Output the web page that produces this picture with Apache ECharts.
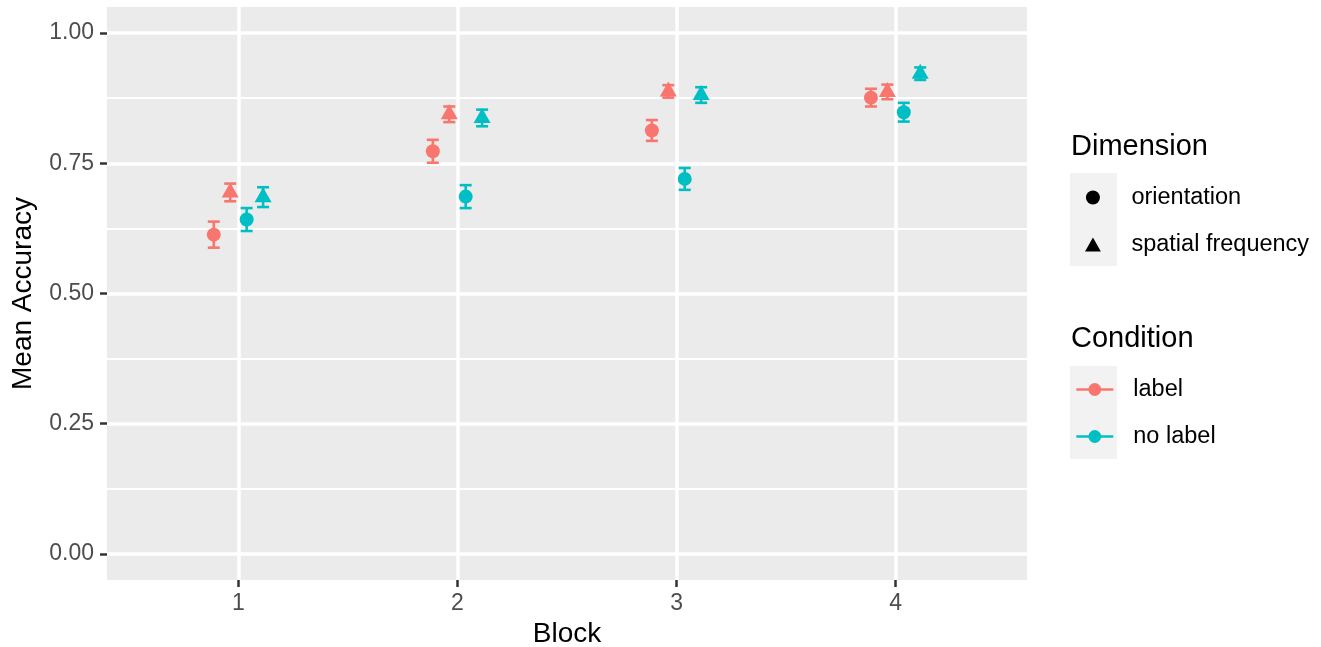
<!DOCTYPE html>
<html>
<head>
<meta charset="utf-8">
<script src="https://cdn.jsdelivr.net/npm/echarts@6/dist/echarts.min.js"></script>
<style>
  html, body { margin: 0; padding: 0; background: #fff; }
  #chart { width: 1321px; height: 647px; }
</style>
</head>
<body>
<div id="chart"></div>
<script>
// values (mean accuracy and half-width of the error bar)
var blocks = [1, 2, 3, 4]
var yBreaks = [0, 0.25, 0.5, 0.75, 1]
var yMinorBreaks = [0.125, 0.375, 0.625, 0.875]

var labelOrientation = [0.613, 0.773, 0.813, 0.876]
var labelOrientationErr = [0.025, 0.022, 0.020, 0.017]
var labelSpatial = [0.694, 0.844, 0.888, 0.887]
var labelSpatialErr = [0.017, 0.015, 0.012, 0.014]
var noLabelOrientation = [0.642, 0.686, 0.720, 0.848]
var noLabelOrientationErr = [0.022, 0.022, 0.021, 0.018]
var noLabelSpatial = [0.685, 0.837, 0.881, 0.922]
var noLabelSpatialErr = [0.019, 0.016, 0.015, 0.012]

var font = '"Liberation Sans", Arial, sans-serif'
var colors = { label: '#F8766D', 'no label': '#00BFC4' }
var trianglePath = 'path://M0,15L8.5,0L17,15Z'

// dodge order: label/orientation, label/spatial, no label/orientation, no label/spatial
var groups = [
    { condition: 'label', dimension: 'orientation', mean: labelOrientation, err: labelOrientationErr },
    { condition: 'label', dimension: 'spatial frequency', mean: labelSpatial, err: labelSpatialErr },
    { condition: 'no label', dimension: 'orientation', mean: noLabelOrientation, err: noLabelOrientationErr },
    { condition: 'no label', dimension: 'spatial frequency', mean: noLabelSpatial, err: noLabelSpatialErr }
]
var dodge = [-0.1125, -0.0375, 0.0375, 0.1125]
var capHalf = 6

function errorBarItem(params, api) {
    var x = api.value(0)
    var y = api.value(1)
    var e = api.value(2)
    var top = api.coord([x, y + e])
    var bottom = api.coord([x, y - e])
    var style = { stroke: api.visual('color'), lineWidth: 2.6 }
    return {
        type: 'group',
        children: [
            { type: 'line', shape: { x1: top[0], y1: top[1], x2: bottom[0], y2: bottom[1] }, style: style },
            { type: 'line', shape: { x1: top[0] - capHalf, y1: top[1], x2: top[0] + capHalf, y2: top[1] }, style: style },
            { type: 'line', shape: { x1: bottom[0] - capHalf, y1: bottom[1], x2: bottom[0] + capHalf, y2: bottom[1] }, style: style }
        ]
    }
}

var series = []

groups.forEach(function(g, i) {
    var data = blocks.map(function(b, k) {
        return [b + dodge[i], g.mean[k], g.err[k]]
    })
    series.push({
        name: g.condition + ' / ' + g.dimension + ' (err)',
        type: 'custom',
        renderItem: errorBarItem,
        encode: { x: 0, y: 1 },
        itemStyle: { color: colors[g.condition] },
        data: data,
        z: 3
    })
    var triangle = g.dimension !== 'orientation'
    series.push({
        name: g.condition + ' / ' + g.dimension,
        type: 'scatter',
        symbol: triangle ? 'triangle' : 'circle',
        symbolSize: triangle ? [17, 15] : 14,
        symbolOffset: triangle ? [0, -2.5] : [0, 0],
        itemStyle: { color: colors[g.condition], opacity: 1 },
        data: data,
        z: 4
    })
})

// legend-only series
series.push({ name: 'orientation', type: 'scatter', symbol: 'circle', itemStyle: { color: '#000', opacity: 1 }, data: [] })
series.push({ name: 'spatial frequency', type: 'scatter', symbol: trianglePath, symbolKeepAspect: true, itemStyle: { color: '#000', opacity: 1 }, data: [] })
series.push({ name: 'label', type: 'line', symbol: 'circle', itemStyle: { color: colors.label }, lineStyle: { width: 2.6, color: colors.label }, data: [] })
series.push({ name: 'no label', type: 'line', symbol: 'circle', itemStyle: { color: colors['no label'] }, lineStyle: { width: 2.6, color: colors['no label'] }, data: [] })

var legendBase = {
    orient: 'vertical',
    left: 1075,
    itemWidth: 37,
    itemHeight: 16,
    itemGap: 23,
    padding: 0,
    selectedMode: false,
    symbolKeepAspect: true,
    lineStyle: { width: 2.6 },
    textStyle: { fontSize: 23.5, color: '#000', fontFamily: font, padding: [0, 0, 0, 15] }
}

var chart = echarts.init(document.getElementById('chart'))

chart.setOption({
    animation: false,
    textStyle: { fontFamily: font },
    grid: {
        left: 107,
        top: 7,
        width: 920,
        height: 573,
        show: true,
        backgroundColor: '#EBEBEB',
        borderWidth: 0,
        containLabel: false,
        outerBoundsMode: 'none'
    },
    xAxis: {
        type: 'value',
        min: 0.4,
        max: 4.6,
        name: 'Block',
        nameLocation: 'middle',
        nameGap: 40,
        nameTextStyle: { fontSize: 28, color: '#000', fontFamily: font },
        axisLine: { show: false, onZero: false },
        axisTick: { show: true, customValues: blocks, length: 7, lineStyle: { color: '#333333', width: 2.5 } },
        axisLabel: { customValues: blocks, margin: 12, fontSize: 23, color: '#4D4D4D', fontFamily: font },
        splitLine: { show: true, lineStyle: { color: '#FFFFFF', width: 3.5 } }
    },
    yAxis: [{
        type: 'value',
        min: -0.05,
        max: 1.05,
        name: 'Mean Accuracy',
        nameLocation: 'middle',
        nameGap: 70,
        nameTextStyle: { fontSize: 28, color: '#000', fontFamily: font },
        axisLine: { show: false, onZero: false },
        axisTick: { show: true, customValues: yBreaks, length: 7, lineStyle: { color: '#333333', width: 2.5 } },
        axisLabel: {
            customValues: yBreaks,
            margin: 13,
            fontSize: 23,
            color: '#4D4D4D',
            fontFamily: font,
            formatter: function(v) { return v.toFixed(2) }
        },
        splitLine: { show: true, lineStyle: { color: '#FFFFFF', width: 3.5 } },
        z: 1
    }, {
        type: 'value',
        min: -0.05,
        max: 1.05,
        position: 'left',
        axisLine: { show: false, onZero: false },
        axisTick: { show: false, customValues: yMinorBreaks },
        axisLabel: { show: false, customValues: yMinorBreaks },
        splitLine: { show: true, lineStyle: { color: '#FFFFFF', width: 1.8 } },
        z: 0
    }],
    legend: [
        Object.assign({}, legendBase, {
            left: 1085,
            top: 185.5,
            itemHeight: 14,
            data: ['orientation', { name: 'spatial frequency', icon: trianglePath }]
        }),
        Object.assign({}, legendBase, { top: 377.5, data: ['label', 'no label'] })
    ],
    graphic: [
        { type: 'rect', shape: { x: 1070, y: 173, width: 47, height: 93 }, style: { fill: '#F2F2F2' }, z: -1 },
        { type: 'rect', shape: { x: 1070, y: 366, width: 47, height: 93 }, style: { fill: '#F2F2F2' }, z: -1 },
        { type: 'text', x: 1071, y: 147, style: { text: 'Dimension', font: '29px ' + font, fill: '#000', verticalAlign: 'middle' } },
        { type: 'text', x: 1071, y: 339, style: { text: 'Condition', font: '29px ' + font, fill: '#000', verticalAlign: 'middle' } }
    ],
    series: series
})
</script>
</body>
</html>
